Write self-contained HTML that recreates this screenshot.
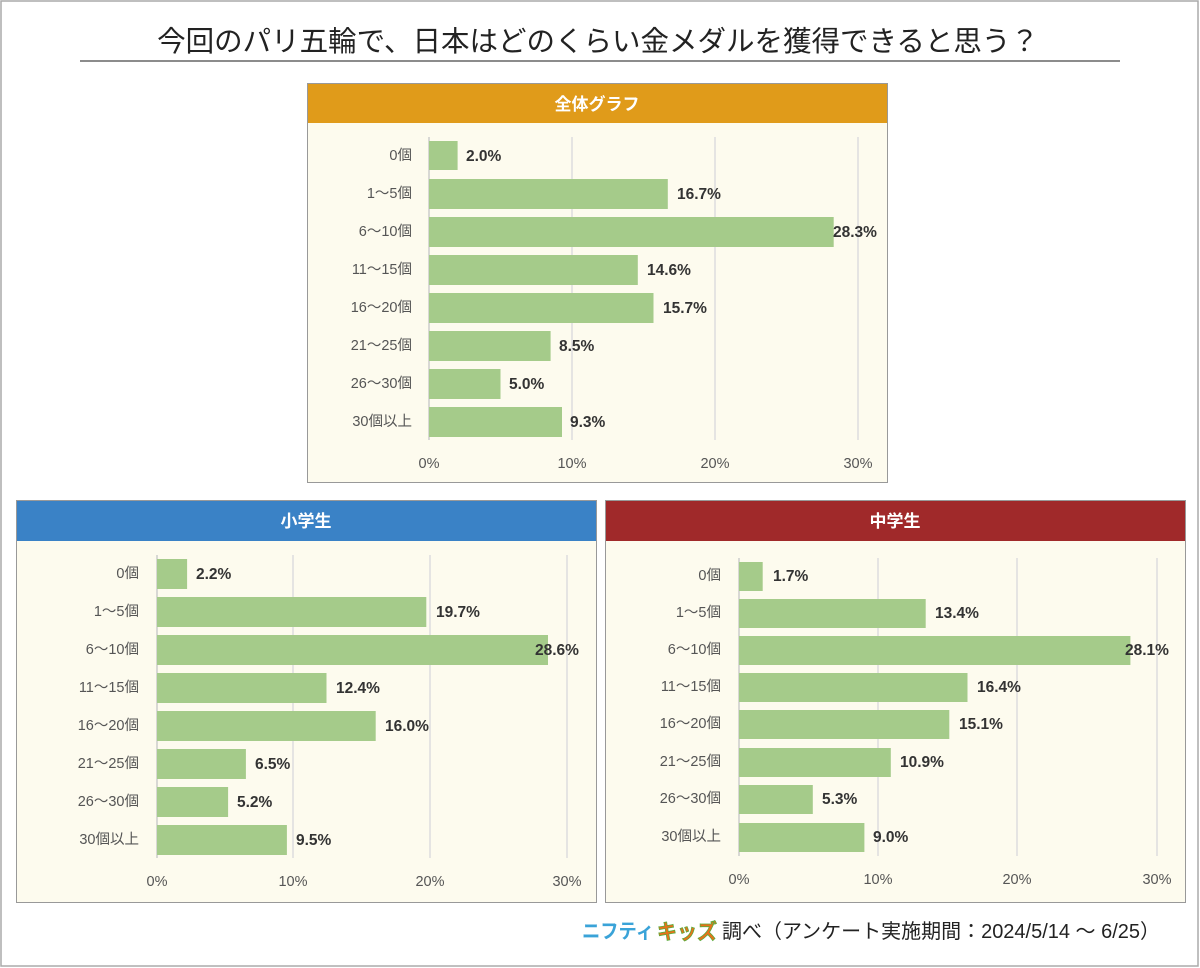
<!DOCTYPE html>
<html><head><meta charset="utf-8"><style>
html,body{margin:0;padding:0;background:#fff}
svg{display:block}
text{font-family:"Liberation Sans","Noto Sans CJK JP",sans-serif}
.c{font-size:14.5px;fill:#555;text-anchor:end}
.v{font-size:15.5px;font-weight:bold;fill:#333}
.a{font-size:14.5px;fill:#555;text-anchor:middle}
.h{font-size:17px;font-weight:bold;fill:#fff;text-anchor:middle}
</style></head><body>
<svg width="1200" height="968" viewBox="0 0 1200 968" xmlns="http://www.w3.org/2000/svg">
<rect x="1" y="1" width="1197" height="965" fill="#fff" stroke="#aaa" stroke-width="1.5"/>
<text x="598" y="51" font-size="28.5" fill="#222" text-anchor="middle">今回のパリ五輪で、日本はどのくらい金メダルを獲得できると思う？</text>
<line x1="80" y1="61" x2="1120" y2="61" stroke="#666" stroke-width="1.5"/>

<!-- TOP -->
<rect x="307.5" y="83.5" width="580" height="399" fill="#FDFBEE" stroke="#999"/>
<rect x="308" y="84" width="579" height="39" fill="#E09B1A"/>
<text class="h" x="597" y="110">全体グラフ</text>
<g stroke="#ddd" stroke-width="1.5"><line x1="572" y1="137" x2="572" y2="440"/><line x1="715" y1="137" x2="715" y2="440"/><line x1="858" y1="137" x2="858" y2="440"/></g>
<line x1="429" y1="137" x2="429" y2="440" stroke="#ccc" stroke-width="1.5"/>
<g fill="#A5CB8A">
<rect x="429" y="141" width="28.6" height="29"/><rect x="429" y="179" width="238.8" height="30"/><rect x="429" y="217" width="404.7" height="30"/><rect x="429" y="255" width="208.8" height="30"/><rect x="429" y="293" width="224.5" height="30"/><rect x="429" y="331" width="121.6" height="30"/><rect x="429" y="369" width="71.5" height="30"/><rect x="429" y="407" width="133" height="30"/></g>
<g class="c"><text x="412" y="160">0個</text><text x="412" y="198">1～5個</text><text x="412" y="236">6～10個</text><text x="412" y="274">11～15個</text><text x="412" y="312">16～20個</text><text x="412" y="350">21～25個</text><text x="412" y="388">26～30個</text><text x="412" y="426">30個以上</text></g>
<g class="v"><text x="466" y="161">2.0%</text><text x="677" y="199">16.7%</text><text x="833" y="237">28.3%</text><text x="647" y="275">14.6%</text><text x="663" y="313">15.7%</text><text x="559" y="351">8.5%</text><text x="509" y="389">5.0%</text><text x="570" y="427">9.3%</text></g>
<g class="a"><text x="429" y="468">0%</text><text x="572" y="468">10%</text><text x="715" y="468">20%</text><text x="858" y="468">30%</text></g>

<!-- LEFT -->
<rect x="16.5" y="500.5" width="580" height="402" fill="#FDFBEE" stroke="#999"/>
<rect x="17" y="501" width="579" height="40" fill="#3A82C6"/>
<text class="h" x="306" y="527">小学生</text>
<g stroke="#ddd" stroke-width="1.5"><line x1="293" y1="555" x2="293" y2="858"/><line x1="430" y1="555" x2="430" y2="858"/><line x1="567" y1="555" x2="567" y2="858"/></g>
<line x1="157" y1="555" x2="157" y2="858" stroke="#ccc" stroke-width="1.5"/>
<g fill="#A5CB8A">
<rect x="157" y="559" width="30.1" height="30"/><rect x="157" y="597" width="269.3" height="30"/><rect x="157" y="635" width="391" height="30"/><rect x="157" y="673" width="169.5" height="30"/><rect x="157" y="711" width="218.7" height="30"/><rect x="157" y="749" width="88.9" height="30"/><rect x="157" y="787" width="71.1" height="30"/><rect x="157" y="825" width="129.9" height="30"/></g>
<g class="c"><text x="139" y="578">0個</text><text x="139" y="616">1～5個</text><text x="139" y="654">6～10個</text><text x="139" y="692">11～15個</text><text x="139" y="730">16～20個</text><text x="139" y="768">21～25個</text><text x="139" y="806">26～30個</text><text x="139" y="844">30個以上</text></g>
<g class="v"><text x="196" y="579">2.2%</text><text x="436" y="617">19.7%</text><text x="535" y="655">28.6%</text><text x="336" y="693">12.4%</text><text x="385" y="731">16.0%</text><text x="255" y="769">6.5%</text><text x="237" y="807">5.2%</text><text x="296" y="845">9.5%</text></g>
<g class="a"><text x="157" y="886">0%</text><text x="293" y="886">10%</text><text x="430" y="886">20%</text><text x="567" y="886">30%</text></g>

<!-- RIGHT -->
<rect x="605.5" y="500.5" width="580" height="402" fill="#FDFBEE" stroke="#999"/>
<rect x="606" y="501" width="579" height="40" fill="#A0292A"/>
<text class="h" x="895" y="527">中学生</text>
<g stroke="#ddd" stroke-width="1.5"><line x1="878" y1="558" x2="878" y2="856"/><line x1="1017" y1="558" x2="1017" y2="856"/><line x1="1157" y1="558" x2="1157" y2="856"/></g>
<line x1="739" y1="558" x2="739" y2="856" stroke="#ccc" stroke-width="1.5"/>
<g fill="#A5CB8A">
<rect x="739" y="562" width="23.7" height="29"/><rect x="739" y="599" width="186.7" height="29"/><rect x="739" y="636" width="391.4" height="29"/><rect x="739" y="673" width="228.5" height="29"/><rect x="739" y="710" width="210.3" height="29"/><rect x="739" y="748" width="151.8" height="29"/><rect x="739" y="785" width="73.8" height="29"/><rect x="739" y="823" width="125.4" height="29"/></g>
<g class="c"><text x="721" y="580">0個</text><text x="721" y="617">1～5個</text><text x="721" y="654">6～10個</text><text x="721" y="691">11～15個</text><text x="721" y="728">16～20個</text><text x="721" y="766">21～25個</text><text x="721" y="803">26～30個</text><text x="721" y="841">30個以上</text></g>
<g class="v"><text x="773" y="581">1.7%</text><text x="935" y="618">13.4%</text><text x="1125" y="655">28.1%</text><text x="977" y="692">16.4%</text><text x="959" y="729">15.1%</text><text x="900" y="767">10.9%</text><text x="822" y="804">5.3%</text><text x="873" y="842">9.0%</text></g>
<g class="a"><text x="739" y="884">0%</text><text x="878" y="884">10%</text><text x="1017" y="884">20%</text><text x="1157" y="884">30%</text></g>

<!-- footer -->
<text x="582" y="938" font-size="20" font-weight="bold" fill="#3AA3D8" textLength="72" lengthAdjust="spacingAndGlyphs">ニフティ</text>
<text x="657" y="939" font-size="21" font-weight="bold" fill="#E8711A" stroke="#5BAA3A" stroke-width="0.8" textLength="60" lengthAdjust="spacingAndGlyphs">キッズ</text>
<text x="722" y="938" font-size="20" fill="#222" textLength="438" lengthAdjust="spacingAndGlyphs">調べ（アンケート実施期間：2024/5/14 ～ 6/25）</text>
</svg>
</body></html>
